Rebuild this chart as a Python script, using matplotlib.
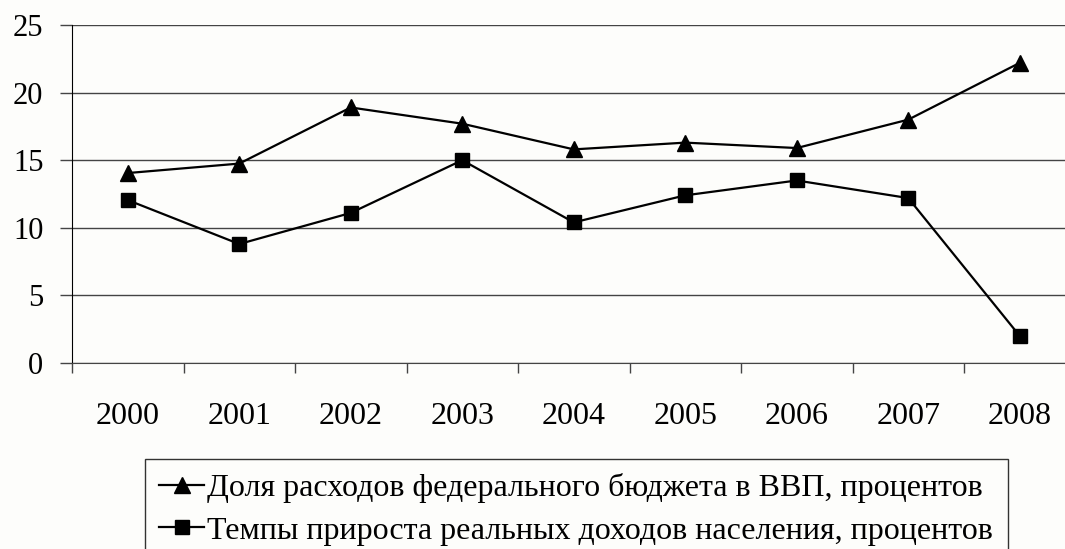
import matplotlib.pyplot as plt
import numpy as np

years = ['2000', '2001', '2002', '2003', '2004', '2005', '2006', '2007', '2008']
budget_share = [14.05, 14.75, 18.9, 17.7, 15.8, 16.3, 15.9, 18.0, 22.2]
income_growth = [12.05, 8.8, 11.1, 15.0, 10.4, 12.4, 13.5, 12.2, 2.0]
label_budget = 'Доля расходов федерального бюджета в ВВП, процентов'
label_income = 'Темпы прироста реальных доходов населения, процентов'

plt.rcParams['font.family'] = ['Liberation Serif', 'DejaVu Serif']

fig = plt.figure(figsize=(10.65, 5.49), dpi=100, facecolor='#fdfdfb')
W, H = 1065.0, 549.0
ax = fig.add_axes([72 / W, 1 - 363 / H, 1003.5 / W, 338 / H])
ax.set_facecolor('#fdfdfb')

x = np.arange(len(years))
ax.plot(x, budget_share, color='black', lw=1.6, marker='^', ms=11, label=label_budget)
ax.plot(x, income_growth, color='black', lw=1.6, marker='s', ms=10, label=label_income)

ax.set_xlim(-0.5, len(years) - 0.5)
ax.set_ylim(0, 25)
ax.set_yticks([0, 5, 10, 15, 20, 25])
ax.yaxis.grid(True, color='#444444', lw=1)
ax.set_axisbelow(True)

# ticks between categories, labels in the middle
ax.set_xticks(np.arange(-0.5, len(years), 1.0))
ax.set_xticklabels([])
ax.set_xticks(x, minor=True)
ax.set_xticklabels(years, minor=True)
ax.tick_params(axis='x', which='major', length=7.2, width=1, color='#444444', direction='out')
ax.tick_params(axis='x', which='minor', length=0, pad=28, labelsize=23)
ax.tick_params(axis='y', length=8.6, width=1, color='#444444', pad=12, labelsize=22)

for s in ['top', 'right']:
    ax.spines[s].set_visible(False)
ax.spines['left'].set_color('black')
ax.spines['bottom'].set_color('#444444')

leg = fig.legend(loc='upper left', bbox_to_anchor=(145 / W, 1 - 459 / H),
                 fontsize=23, frameon=True, fancybox=False, edgecolor='black',
                 handlelength=1.4, handletextpad=0.1, labelspacing=0.4,
                 borderpad=0.45, borderaxespad=0)
leg.get_frame().set_linewidth(1)
leg.get_frame().set_facecolor('#fdfdfb')

fig.savefig('out.png', dpi=100, facecolor=fig.get_facecolor())
